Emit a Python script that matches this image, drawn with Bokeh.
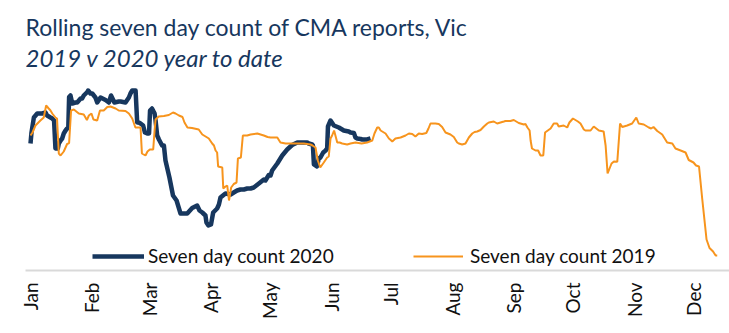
from math import pi
from bokeh.plotting import figure
from bokeh.models import Range1d, FixedTicker, Label, Legend, LegendItem
from bokeh.embed import file_html
from bokeh.resources import INLINE

# ---- data ----
month_labels = ["Jan", "Feb", "Mar", "Apr", "May", "Jun",
                "Jul", "Aug", "Sep", "Oct", "Nov", "Dec"]
month_start_days = [0, 31, 60, 91, 121, 152, 182, 213, 244, 274, 305, 335]

days_2020 = [0, 0.5, 1.7, 3.4, 5.9, 7.6, 8.4, 10.1, 11, 11.9,
             12.6, 13.8, 14.3, 15.2, 16, 16.8, 17.7, 18.5, 19.1, 19.5,
             20.2, 21.1, 22.7, 23.6, 25.3, 26.1, 26.9, 28.7, 29.1, 30.3,
             31.2, 32, 32.8, 33.7, 35.4, 37.9, 39.6, 40.7, 42.4, 44.6,
             45.5, 48, 49.7, 50.5, 51.4, 52.2, 53.1, 53.9, 54.7, 55.6,
             56.9, 57.8, 59, 59.9, 60.4, 61.4, 62.7, 63.2, 64, 64.9,
             66.5, 67.4, 68.2, 70.2, 72, 73.8, 75.8, 79.2, 81.7, 84.2,
             85.4, 86.8, 88.4, 88.9, 89.9, 91.2, 92.3, 94.3, 95.2, 96,
             98.5, 101.1, 102.7, 104.4, 106.1, 107.8, 109.5, 111.2, 112.8, 115.4,
             117.9, 118.7, 120.4, 121.3, 122.1, 124.7, 127.2, 129.7, 132.2, 134.8,
             137.3, 139.8, 140.6, 142.3, 142.7, 143.2, 144.7, 145.7, 146.5, 147.9,
             149.1, 149.9, 150.3, 151.6, 153.3, 155.8, 158.3, 160.8, 161.7, 163.4,
             164.2, 165.1, 166.8, 167.6, 170.1, 171.8]
count_2020 = [125, 136, 151, 155, 155, 156, 153, 151, 150, 148,
              120, 120, 125, 128, 130, 135, 138, 140, 141, 171.5,
              173, 165, 166, 166, 170, 170, 173, 176.5, 178, 175,
              175, 173, 171, 166, 171, 168.5, 166, 173, 166, 167,
              167, 166, 171, 175, 178, 178, 178, 146, 146, 145,
              143, 136, 135, 135, 158, 160, 155, 148, 133, 129,
              123, 123, 108, 91, 73, 68, 55, 55, 60.5, 63,
              58, 56, 53, 46, 43, 44, 56, 60, 64, 71,
              75, 74, 76, 78, 79, 79, 80, 80, 81, 85,
              89, 88, 93.5, 93, 98, 105, 113, 119, 123.5, 126,
              126, 126, 125, 124, 123, 104, 102, 110, 111, 116,
              118, 120, 142, 148, 143, 141, 138, 137, 136, 135.5,
              131, 130, 129.5, 129, 129, 130]

days_2019 = [0, 1, 2.5, 5, 6.7, 7.9, 9.2, 10.1, 11, 11.8,
             12.6, 13.4, 14.3, 15.2, 16.8, 18.5, 19.5, 20.5, 21.9, 24.4,
             26.9, 28.5, 29.5, 30.8, 31.8, 33.7, 35.1, 37, 38.8, 40.4,
             43, 44.6, 48, 49.7, 51.4, 53, 55.6, 56.3, 58.1, 59.1,
             60.3, 62, 62.7, 63.2, 64.8, 67.4, 69.9, 72, 73.3, 75,
             76.8, 77.8, 79.3, 81.6, 85, 86.8, 89.3, 90.1, 91.8, 92.7,
             93.5, 94.3, 94.8, 96.9, 97.4, 98.5, 99.4, 100.3, 101.4, 102.7,
             104.1, 104.8, 106.3, 107.3, 109.5, 111.2, 114.6, 117.9, 119.8, 121.3,
             124.7, 126.3, 128.9, 132.2, 134.8, 138.1, 141.5, 142.5, 144, 145.2,
             146.4, 148.2, 149.9, 150.7, 151.6, 152.4, 153.4, 155, 156.2, 157.5,
             160, 161.7, 164.2, 167.3, 170.1, 172.7, 173.8, 175.2, 176, 176.9,
             179.4, 181.1, 182, 182.8, 184.4, 187, 189.5, 191.2, 192.9, 194.5,
             196.2, 197.9, 200, 201.1, 202.1, 204.6, 206.3, 208, 209.7, 212.2,
             213.9, 215.6, 216.4, 218.1, 219.8, 221.5, 223.2, 224.4, 225.7, 227.4,
             229.1, 230.8, 231.6, 234.1, 235.8, 237.5, 239.2, 240, 242.5, 244.2,
             246.7, 249.3, 250.1, 251.1, 252.2, 252.7, 253.4, 255.2, 256.5, 257.7,
             259.1, 260, 262.8, 264.4, 266.1, 266.9, 269.4, 271.2, 272.3, 274.1,
             276.6, 277.9, 279.6, 280.4, 283, 284.6, 287.2, 289.6, 290.6, 291.6,
             293.6, 294.8, 296.5, 297.9, 299, 301.5, 304, 306.1, 307.3, 309.9,
             312.4, 313.6, 314.8, 316.7, 319.2, 321.7, 324.3, 325.9, 328.5, 331,
             332.6, 335, 336.3, 337.8, 339.4, 341.6, 343.1, 344.9, 346.2, 347]
count_2019 = [133, 136, 143, 148, 151, 163, 160, 158, 155, 153,
              151, 150, 115, 113, 117, 124.5, 125.5, 158, 159, 155,
              154, 148.5, 153, 155, 149, 148, 158, 158, 161.5, 162,
              160, 158, 157.5, 155, 150, 141, 141, 115, 113, 117,
              119, 119, 138, 149, 152, 152.5, 153.5, 156, 155, 153,
              151.5, 146, 141, 140.5, 139, 134, 131, 130, 125, 123,
              118, 116, 102, 101, 80, 82, 83, 68, 81, 84.5,
              86, 110, 111, 133, 133, 134, 135, 133, 131.5, 131,
              131, 126, 125, 125, 125, 125, 124, 123, 121, 108,
              101, 106, 111, 112, 130, 133, 138, 126, 126, 125,
              124, 125, 126, 125, 126, 128, 135, 141, 141, 138,
              135, 130, 128.5, 127, 130, 131, 133, 135, 134.5, 132,
              135, 134.5, 135.5, 140, 145, 145, 144.5, 141.5, 136, 134,
              131.5, 126, 125, 124, 125, 131, 135, 136.5, 137, 138.5,
              142, 145, 146, 147, 145, 146, 147, 147.5, 147.5, 148.5,
              145.5, 144, 144.5, 141, 138, 128, 120, 118, 118, 113,
              113, 136, 140, 145, 145, 142, 143, 141, 146, 150,
              147, 145, 139, 138, 138, 142, 138, 137, 123, 95,
              105, 107, 106.7, 145, 141.5, 143, 145, 151, 145, 144,
              141, 140, 141.5, 137.5, 134, 126, 125, 120, 118, 116,
              108.5, 106, 103, 102, 70, 29, 20.5, 17, 13, 13]

title_text = "Rolling seven day count of CMA reports, Vic"
subtitle_text = "2019 v 2020 year to date"

NAVY = "#17375E"
ORANGE = "#F7941D"
FONT = "Lato"

p = figure(width=729, height=333, output_backend="svg", toolbar_location=None,
           x_range=Range1d(-2.53, 353.2), y_range=Range1d(-2, 268),
           y_axis_location=None,
           min_border_left=25, min_border_right=0, min_border_top=0, min_border_bottom=63)
p.outline_line_color = None
p.grid.visible = False
p.background_fill_color = "white"
p.border_fill_color = "white"

ax = p.xaxis[0]
ax.ticker = FixedTicker(ticks=month_start_days)
ax.major_label_overrides = {d: m for d, m in zip(month_start_days, month_labels)}
ax.major_label_orientation = pi / 2
ax.major_tick_in = 0
ax.major_tick_out = 0
ax.minor_tick_in = 0
ax.minor_tick_out = 0
ax.axis_line_color = "#D9D9D9"
ax.axis_line_width = 2
ax.major_label_standoff = 12
ax.major_label_text_font = FONT
ax.major_label_text_font_size = "19px"
ax.major_label_text_color = "#111111"

r20 = p.line(days_2020, count_2020, line_color=NAVY, line_width=4.5, line_join="round")
r19 = p.line(days_2019, count_2019, line_color=ORANGE, line_width=2)

common = dict(orientation="horizontal", padding=0, margin=0, border_line_color=None,
              background_fill_alpha=0, glyph_height=20, label_height=20,
              label_text_font=FONT, label_text_font_size="19px", label_text_color="#111111")
leg1 = Legend(items=[LegendItem(label="Seven day count 2020", renderers=[r20])],
              location=(67, 3), glyph_width=52, label_standoff=4, **common)
leg2 = Legend(items=[LegendItem(label="Seven day count 2019", renderers=[r19])],
              location=(388, 3), glyph_width=50, label_standoff=7, **common)
p.add_layout(leg1)
p.add_layout(leg2)

p.add_layout(Label(x=0, y=242, x_units="screen", y_units="data",
                   text=title_text,
                   text_font=FONT, text_font_size="23px", text_color=NAVY,
                   text_baseline="alphabetic"))
p.add_layout(Label(x=0, y=211, x_units="screen", y_units="data",
                   text=subtitle_text,
                   text_font=FONT, text_font_size="24px", text_font_style="italic",
                   text_color=NAVY, text_baseline="alphabetic"))

open("out.html", "w").write(file_html(p, INLINE))
